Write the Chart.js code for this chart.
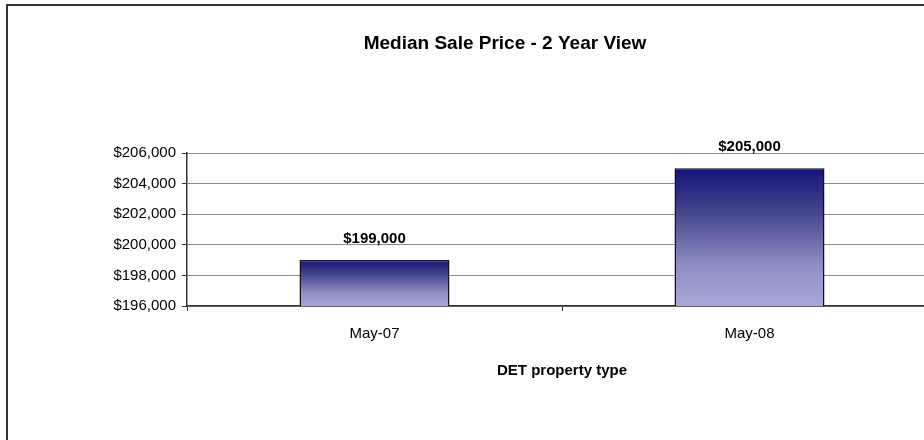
<!DOCTYPE html>
<html>
<head>
<meta charset="utf-8">
<script src="https://cdn.jsdelivr.net/npm/chart.js@4/dist/chart.umd.min.js"></script>
<style>
  html, body { margin: 0; padding: 0; background: #fff; overflow: hidden; }
  #wrap { position: absolute; left: 0; top: 0; width: 950px; height: 440px; }
  #frame { position: absolute; left: 6px; top: 4px; width: 1200px; height: 1000px;
           border-left: 2px solid #333; border-top: 2px solid #333; pointer-events: none; }
</style>
</head>
<body>
<div id="wrap"><canvas id="chart" width="950" height="440"></canvas></div>
<div id="frame"></div>
<script>
const months = ['May-07', 'May-08'];
const medianPrice = [199000, 205000];
const yTicks = [196000, 198000, 200000, 202000, 204000, 206000];
const chartTitle = 'Median Sale Price - 2 Year View';

const FONT = '"Liberation Sans", Arial, sans-serif';

function money(v) {
  return '$' + v.toLocaleString('en-US');
}

function barFill(ctx) {
  const chart = ctx.chart;
  const area = chart.chartArea;
  if (!area) return '#5a5a9a';
  const y = chart.scales.y;
  const top = y.getPixelForValue(ctx.dataset.data[ctx.dataIndex]);
  const g = chart.ctx.createLinearGradient(0, top, 0, area.bottom);
  g.addColorStop(0, '#14147a');
  g.addColorStop(0.35, '#4a4a90');
  g.addColorStop(0.7, '#8e8ec4');
  g.addColorStop(1, '#a8a8d8');
  return g;
}

// title centred over the visible frame, and value labels above the bars
const labelsPlugin = {
  id: 'labelsPlugin',
  afterDatasetsDraw(chart) {
    const c = chart.ctx;
    const meta = chart.getDatasetMeta(0);
    c.save();
    c.fillStyle = '#000';
    c.textAlign = 'center';
    c.textBaseline = 'middle';
    c.font = 'bold 19px ' + FONT;
    c.fillText(chartTitle, 505, 44);
    c.font = 'bold 15px ' + FONT;
    meta.data.forEach((bar, i) => {
      c.fillText(money(medianPrice[i]), bar.x, bar.y - 21);
    });
    c.restore();
  }
};

new Chart(document.getElementById('chart'), {
  type: 'bar',
  data: {
    labels: months,
    datasets: [{
      data: medianPrice,
      backgroundColor: barFill,
      borderColor: '#111',
      borderWidth: 1.5,
      borderSkipped: false,
      barPercentage: 0.4,
      categoryPercentage: 1
    }]
  },
  options: {
    responsive: false,
    animation: false,
    layout: { padding: { left: 20, right: 13, top: 153, bottom: 54 } },
    plugins: {
      legend: { display: false },
      tooltip: { enabled: false },
      title: { display: false }
    },
    scales: {
      x: {
        grid: { offset: true, drawOnChartArea: false, drawTicks: true, tickLength: 5, color: '#333' },
        border: { color: '#333', width: 1.5 },
        ticks: { color: '#000', font: { family: FONT, size: 15 }, padding: 14 },
        title: {
          display: true,
          text: 'DET property type',
          color: '#000',
          font: { family: FONT, size: 15, weight: 'bold' },
          padding: { top: 0, bottom: 6 }
        },
        afterFit(scale) { scale.height = 80; }
      },
      y: {
        min: 196000,
        max: 206000,
        afterBuildTicks(scale) { scale.ticks = yTicks.map(v => ({ value: v })); },
        grid: { color: '#8c8c8c', lineWidth: 1, tickLength: 5, tickColor: '#333' },
        border: { color: '#333', width: 1.5 },
        ticks: { color: '#000', font: { family: FONT, size: 15 }, padding: 6, callback: v => money(v) },
        afterFit(scale) { scale.width = 167; }
      }
    }
  },
  plugins: [labelsPlugin]
});
</script>
</body>
</html>
